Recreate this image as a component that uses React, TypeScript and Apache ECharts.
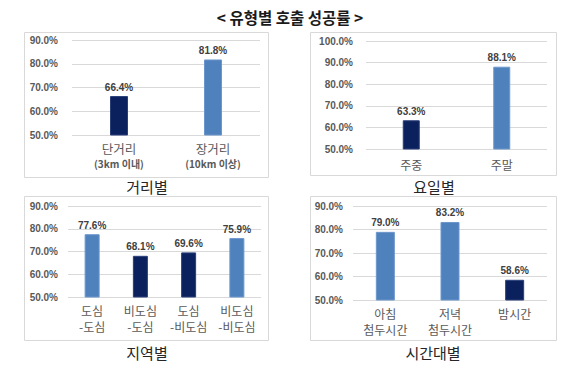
import React, { useEffect, useRef } from "react";
import * as echarts from "echarts";

const DARK = "#0b215e";
const LIGHT = "#4f81bd";

const mainTitle = "< 유형별 호출 성공률 >";

const distanceCats = ["단거리|(3km 이내)", "장거리|(10km 이상)"];
const distanceVals = [66.4, 81.8];
const distanceTones = ["d", "l"];

const dayCats = ["주중", "주말"];
const dayVals = [63.3, 88.1];
const dayTones = ["d", "l"];

const regionCats = ["도심\n-도심", "비도심\n-도심", "도심\n-비도심", "비도심\n-비도심"];
const regionVals = [77.6, 68.1, 69.6, 75.9];
const regionTones = ["l", "d", "d", "l"];

const timeCats = ["아침\n첨두시간", "저녁\n첨두시간", "밤시간"];
const timeVals = [79.0, 83.2, 58.6];
const timeTones = ["l", "l", "d"];

const panelNames = ["거리별", "요일별", "지역별", "시간대별"];

const FONT = "'Noto Sans CJK KR', 'Liberation Sans', sans-serif";
const NUMFONT = "'Liberation Sans', Arial, sans-serif";

export default function App() {
  const ref = useRef<HTMLDivElement>(null);
  useEffect(() => {
    if (!ref.current) return;
    const chart = echarts.init(ref.current, undefined, { renderer: "svg" });

    const grids = [
      { left: 72, top: 40, width: 188, height: 95 },
      { left: 366, top: 41, width: 181, height: 108 },
      { left: 68, top: 206, width: 193, height: 91 },
      { left: 353, top: 206, width: 194, height: 94 },
    ];
    const yMax = [90, 100, 90, 90];
    const yMargin = [14, 13, 10, 10];
    const cats = [distanceCats, dayCats, regionCats, timeCats];
    const vals = [distanceVals, dayVals, regionVals, timeVals];
    const tones = [distanceTones, dayTones, regionTones, timeTones];
    const barW = [18, 17, 15, 19];

    const xAxes = cats.map((c, i) => {
      const base: any = {
        type: "category",
        gridIndex: i,
        data: c,
        axisLine: { show: false },
        axisTick: { show: false },
      };
      if (i === 0) {
        base.axisLabel = {
          margin: 5,
          interval: 0,
          formatter: (v: string) => {
            const [a, b] = v.split("|");
            return `{a|${a}}\n{b|${b}}`;
          },
          rich: {
            a: { fontFamily: FONT, fontSize: 12.5, color: "#595959", lineHeight: 16 },
            b: { fontFamily: FONT, fontSize: 10, fontWeight: "bold", color: "#595959", lineHeight: 15 },
          },
        };
      } else {
        base.axisLabel = {
          margin: i === 1 ? 7 : 5,
          interval: 0,
          fontFamily: FONT,
          fontSize: 12,
          color: "#595959",
          lineHeight: 16,
        };
      }
      return base;
    });

    const yAxes = grids.map((_, i) => ({
      type: "value",
      gridIndex: i,
      min: 50,
      max: yMax[i],
      interval: 10,
      axisLine: { show: false },
      axisTick: { show: false },
      splitLine: { lineStyle: { color: "#d9d9d9", width: 1 } },
      axisLabel: {
        margin: yMargin[i],
        fontFamily: NUMFONT,
        fontSize: 10,
        fontWeight: "bold",
        color: "#595959",
        formatter: (v: number) => v.toFixed(1) + "%",
      },
    }));

    const series = vals.map((v, i) => ({
      type: "bar",
      xAxisIndex: i,
      yAxisIndex: i,
      barWidth: barW[i],
      data: v.map((val, j) => ({
        value: val,
        itemStyle: {
          color: tones[i][j] === "d" ? DARK : LIGHT,
          borderColor: tones[i][j] === "d" ? "#2a3f78" : "#6c97cc",
          borderWidth: 1,
        },
      })),
      label: {
        show: true,
        position: "top",
        distance: 4,
        fontFamily: NUMFONT,
        fontSize: 10,
        fontWeight: "bold",
        color: "#404040",
        formatter: (p: any) => Number(p.value).toFixed(1) + "%",
      },
    }));

    const boxes = [
      { x: 24, y: 32, w: 244, h: 145 },
      { x: 310, y: 32, w: 246, h: 143 },
      { x: 24, y: 196, w: 244, h: 144 },
      { x: 310, y: 196, w: 246, h: 144 },
    ];
    const nameCenters = [
      [147, 186],
      [434, 186],
      [147, 352],
      [433, 352],
    ];

    const graphic: any[] = boxes.map((b) => ({
      type: "rect",
      z: -10,
      shape: { x: b.x + 0.5, y: b.y + 0.5, width: b.w, height: b.h },
      style: { fill: "#fff", stroke: "#d9d9d9", lineWidth: 1 },
    }));
    panelNames.forEach((n, i) => {
      graphic.push({
        type: "text",
        x: nameCenters[i][0],
        y: nameCenters[i][1],
        style: {
          text: n,
          fontFamily: FONT,
          fontSize: 15,
          fill: "#262626",
          textAlign: "center",
          textVerticalAlign: "middle",
        },
      });
    });
    graphic.push({
      type: "text",
      x: 290,
      y: 17,
      style: {
        text: mainTitle,
        fontFamily: FONT,
        fontSize: 15.5,
        fontWeight: "bold",
        fill: "#1a1a1a",
        textAlign: "center",
        textVerticalAlign: "middle",
      },
    });

    chart.setOption({
      animation: false,
      backgroundColor: "#ffffff",
      grid: grids,
      xAxis: xAxes,
      yAxis: yAxes,
      series,
      graphic,
    });
    return () => chart.dispose();
  }, []);
  return (
    <div
      ref={ref}
      style={{ position: "absolute", left: 0, top: 0, width: 580, height: 373 }}
    />
  );
}
